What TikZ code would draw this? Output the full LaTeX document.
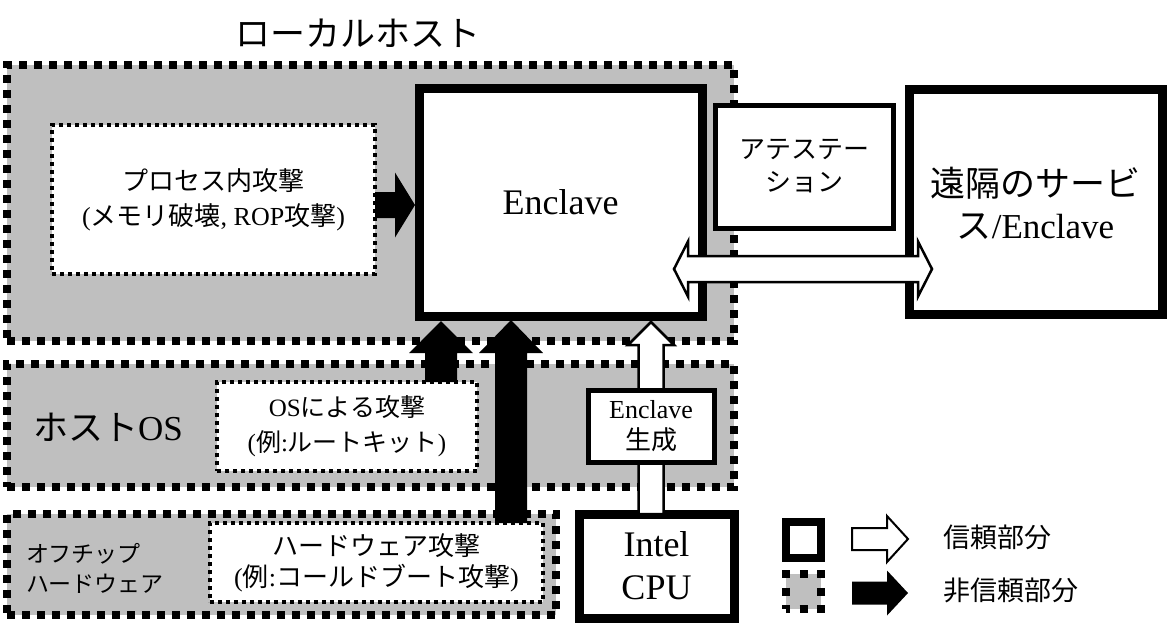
\documentclass[tikz,border=0pt]{standalone}
\usepackage{fontspec}
\setmainfont{Liberation Serif}
\newfontfamily\jp{Noto Sans CJK JP}
\usetikzlibrary{calc}
\newcommand\blockup[6]{\path[#1] let \p1=(#2), \p2=(#3) in (\x1-#4pt,\y1) -- (\x1-#4pt,\y2-#6pt) -- (\x1-#5pt,\y2-#6pt) -- (\x1,\y2) -- (\x1+#5pt,\y2-#6pt) -- (\x1+#4pt,\y2-#6pt) -- (\x1+#4pt,\y1) -- cycle;}
\newcommand\blockright[6]{\path[#1] let \p1=(#2), \p2=(#3) in (\x1,\y1+#4pt) -- (\x2-#6pt,\y1+#4pt) -- (\x2-#6pt,\y1+#5pt) -- (\x2,\y1) -- (\x2-#6pt,\y1-#5pt) -- (\x2-#6pt,\y1-#4pt) -- (\x1,\y1-#4pt) -- cycle;}
\newcommand\blockboth[6]{\path[#1] let \p1=(#2), \p2=(#3) in (\x1,\y1) -- (\x1+#6pt,\y1+#5pt) -- (\x1+#6pt,\y1+#4pt) -- (\x2-#6pt,\y1+#4pt) -- (\x2-#6pt,\y1+#5pt) -- (\x2,\y1) -- (\x2-#6pt,\y1-#5pt) -- (\x2-#6pt,\y1-#4pt) -- (\x1+#6pt,\y1-#4pt) -- (\x1+#6pt,\y1-#5pt) -- cycle;}
\tikzset{
  box/.style={rectangle, inner sep=0pt, outer sep=0pt, align=center},
  untrusted/.style={box, draw, line width=8pt, dash pattern=on 8pt off 7pt, fill=gray!50},
  attackbox/.style={box, draw, line width=4pt, dash pattern=on 4pt off 4pt, fill=white},
  trusted/.style={box, draw, line width=9pt, fill=white},
  thinbox/.style={box, draw, line width=5pt, fill=white},
  blackarrow/.style={fill=black},
  whitearrow/.style={draw=black, fill=white, line width=2.5pt, line join=miter},
  lbl/.style={inner sep=0pt, outer sep=0pt, align=center},
}
\begin{document}
\begin{tikzpicture}[x=1pt,y=-1pt]
\useasboundingbox (0,0) rectangle (1171,633);
% untrusted regions
\node[untrusted, minimum width=727, minimum height=276] (local) at (370.5,203) {};
\node[untrusted, minimum width=727, minimum height=123] (hostos) at (370.5,425.5) {};
\node[untrusted, minimum width=549, minimum height=101] (offchip) at (281.5,564.5) {};
% attack boxes
\node[attackbox, minimum width=323, minimum height=149, font=\fontsize{26}{35}\selectfont] (proc) at (213.5,199.5) {{\jp プロセス内攻撃}\\({\jp メモリ破壊}, ROP{\jp 攻撃})};
\node[attackbox, minimum width=260, minimum height=89, font=\fontsize{25}{35}\selectfont] (osatk) at (347,426.5) {OS{\jp による攻撃}\\({\jp 例}:{\jp ルートキット})};
\node[attackbox, minimum width=333, minimum height=79, font=\fontsize{26}{31}\selectfont] (hwatk) at (376.5,562.5) {{\jp ハードウェア攻撃}\\({\jp 例}:{\jp コールドブート攻撃})};
% trusted CPU and white arrow behind the generation box
\node[trusted, minimum width=155, minimum height=104, font=\fontsize{36}{43}\selectfont] (cpu) at (656.5,566) {Intel\\CPU};
\node[trusted, minimum width=283, minimum height=228, font=\fontsize{36}{43}\selectfont] (enc) at (560.5,202) {Enclave};
\blockup{whitearrow}{$(cpu.north)+(-5.5,0)$}{$(enc.south east)+(-51,6)$}{12.5}{23}{23}
\node[thinbox, minimum width=126, minimum height=72, font=\fontsize{26}{31}\selectfont] (gen) at (651,426) {Enclave\\{\jp 生成}};
\node[thinbox, minimum width=178, minimum height=123, font=\fontsize{26}{33}\selectfont] (att) at (804,166.5) {{\jp アテステー}\\{\jp ション}};
\node[trusted, minimum width=253, minimum height=225] (rem) at (1035.5,201.5) {};
\node[lbl, font=\fontsize{35}{42}\selectfont] (remtext) at (1035.5,203) {{\jp 遠隔のサービ}\\{\jp ス}/Enclave};
% attack arrows
\blockup{blackarrow}{$(osatk.north east)+(-36,0)$}{$(enc.south west)+(22,5)$}{16}{32}{32}
\blockup{blackarrow}{$(hwatk.north)+(134.5,0)$}{$(enc.south west)+(92,4)$}{16}{32}{33}
\blockright{blackarrow}{$(proc.east)+(0,5.5)$}{$(enc.west)+(-4,0)$}{13}{32.5}{20}
% attestation channel
\blockboth{whitearrow}{$(enc.east)+(-28,67)$}{$(rem.west)+(23,67.5)$}{13}{27.5}{14}
% labels
\node[lbl, font=\fontsize{35}{42}\selectfont] (title) at (358,33) {\jp ローカルホスト};
\node[lbl, font=\fontsize{35}{42}\selectfont] (hostlbl) at (108,427) {{\jp ホスト}OS};
\node[lbl, anchor=west, align=left, font=\fontsize{23}{30}\selectfont] (offlbl) at (26,568) {{\jp オフチップ}\\{\jp ハードウェア}};
% legend
\node[box, draw, line width=8pt, fill=white, minimum width=35, minimum height=36] (lg1) at (803.5,540) {};
\node[box, draw, line width=8pt, fill=gray!50, dash pattern=on 8pt off 9.5pt, dash phase=4pt, minimum width=35, minimum height=35] (lg2) at (803.5,591.5) {};
\blockright{whitearrow, line width=2pt}{$(lg1.east)+(31,-1)$}{$(lg1.east)+(87,-1)$}{11}{23}{21}
\blockright{blackarrow}{$(lg2.east)+(31,1.5)$}{$(lg2.east)+(87,1.5)$}{11.5}{22.5}{21}
\node[lbl, anchor=west, font=\fontsize{27}{32}\selectfont] (lgt1) at (943,537) {\jp 信頼部分};
\node[lbl, anchor=west, font=\fontsize{27}{32}\selectfont] (lgt2) at (943,590) {\jp 非信頼部分};
\end{tikzpicture}
\end{document}
